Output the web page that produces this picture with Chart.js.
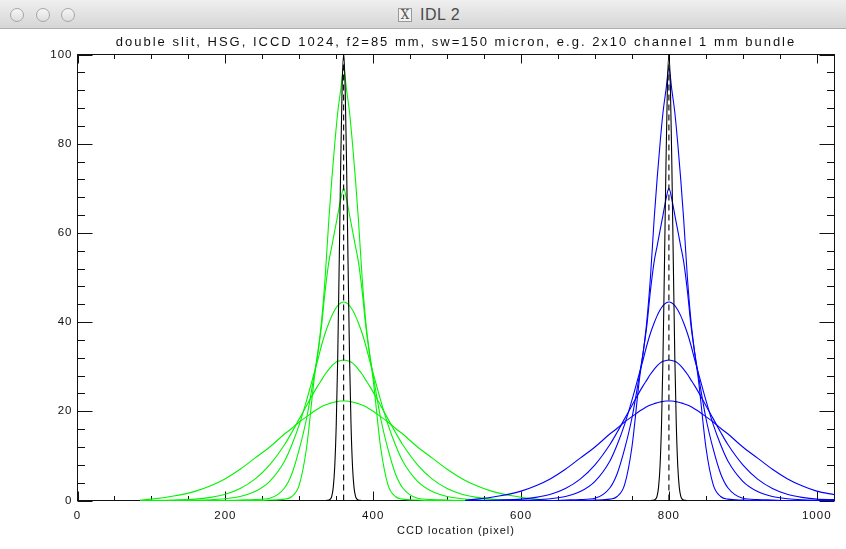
<!DOCTYPE html>
<html>
<head>
<meta charset="utf-8">
<script src="https://cdn.jsdelivr.net/npm/chart.js@4.4.0/dist/chart.umd.min.js"></script>
<style>
html,body{margin:0;padding:0;background:#fff;width:846px;height:549px;overflow:hidden;}
#bar{position:absolute;left:0;top:0;width:846px;height:29px;background:linear-gradient(#efefef,#d6d6d6);border-bottom:1px solid #afafaf;box-sizing:border-box;font-family:'Liberation Sans',Arial,sans-serif;}
.dot{position:absolute;top:8px;width:14px;height:14px;border-radius:50%;border:1px solid #a6a6a6;background:linear-gradient(#f6f6f6,#dddddd);box-sizing:border-box;}
#icon{position:absolute;left:398px;top:8px;width:14px;height:14px;border:1px solid #999;background:#f2f2f2;font-size:12px;line-height:13px;text-align:center;color:#555;box-sizing:border-box;font-family:'DejaVu Serif',serif;}
#ttl{position:absolute;left:420px;top:6px;font-size:16px;letter-spacing:0.5px;color:#4a4a4a;}
#wrap{position:absolute;left:0;top:29px;width:846px;height:520px;}
</style>
</head>
<body>
<div id="bar">
  <div class="dot" style="left:10px"></div>
  <div class="dot" style="left:36px"></div>
  <div class="dot" style="left:61px"></div>
  <div id="icon">X</div>
  <div id="ttl">IDL 2</div>
</div>
<div id="wrap"><canvas id="c" width="846" height="520"></canvas></div>
<script>
// ---- data ----
const titleText = "double slit, HSG, ICCD 1024, f2=85 mm, sw=150 micron, e.g. 2x10 channel 1 mm bundle";
const xTitle = "CCD location (pixel)";
const xTickValues = [0, 200, 400, 600, 800, 1000];
const yTickValues = [0, 20, 40, 60, 80, 100];
const slitCenters = [360, 800];

// green family (slit at pixel 360)
const greenX = [85,100,130,160,180,200,220,240,260,280,290,300,310,320,325,330,335,340,344,348,352,356,360,364,368,372,376,380,385,390,395,400,410,420,430,440,460,480,500,520,540,560,590,620,635];
const green1 = [0,0,0,0,0,0,0,0,0.1,0.3,0.9,3.5,12,27,33,40,50,63,72,80,87,92,97,92,87,80,72,63,50,40,33,27,12,3.5,0.9,0.3,0.1,0,0,0,0,0,0,0,0];
const green2 = [0,0,0,0,0,0,0.1,0.2,0.5,2.8,6,11.5,18.5,28,33,39,47,53.5,57,60.5,64,67.5,70,67.5,64,60.5,57,53.5,47,39,33,28,18.5,11.5,6,2.8,0.5,0.2,0.1,0,0,0,0,0,0];
const green3 = [0,0,0,0.05,0.15,0.4,0.9,2,4.3,8.8,12.5,17,22.5,28.5,31.5,34.7,37.5,39.8,41.4,42.7,43.7,44.3,44.5,44.3,43.7,42.7,41.4,39.8,37.5,34.7,31.5,28.5,22.5,17,12.5,8.8,4.3,2,0.9,0.4,0.15,0.05,0,0,0];
const green4 = [0,0,0.1,0.3,0.7,1.4,2.7,4.8,8,12.5,15.3,18.3,21.3,24.3,25.7,27,28.3,29.4,30.2,30.8,31.2,31.4,31.5,31.4,31.2,30.8,30.2,29.4,28.3,27,25.7,24.3,21.3,18.3,15.3,12.5,8,4.8,2.7,1.4,0.7,0.3,0.1,0,0];
const green5 = [0.1,0.3,1,2.1,3.3,4.9,7,9.5,12,14.9,16.2,17.6,18.8,20,20.5,21,21.4,21.7,21.9,22.1,22.2,22.3,22.3,22.3,22.2,22.1,21.9,21.7,21.4,21,20.5,20,18.8,17.6,16.2,14.9,12,9.5,7,4.9,3.3,2.1,1,0.3,0.1];

// blue family (slit at pixel 800)
const blueX = [525,540,570,600,620,640,660,680,700,720,730,740,750,760,765,770,775,780,784,788,792,796,800,804,808,812,816,820,825,830,835,840,850,860,870,880,900,920,940,960,980,1000,1024];
const blue1 = [0,0,0,0,0,0,0,0,0.1,0.3,0.9,3.5,12,27,33,40,50,63,72,80,87,92,97,92,87,80,72,63,50,40,33,27,12,3.5,0.9,0.3,0.1,0,0,0,0,0,0];
const blue2 = [0,0,0,0,0,0,0.1,0.2,0.5,2.8,6,11.5,18.5,28,33,39,47,53.5,57,60.5,64,67.5,70,67.5,64,60.5,57,53.5,47,39,33,28,18.5,11.5,6,2.8,0.5,0.2,0.1,0,0,0,0];
const blue3 = [0,0,0,0.05,0.15,0.4,0.9,2,4.3,8.8,12.5,17,22.5,28.5,31.5,34.7,37.5,39.8,41.4,42.7,43.7,44.3,44.5,44.3,43.7,42.7,41.4,39.8,37.5,34.7,31.5,28.5,22.5,17,12.5,8.8,4.3,2,0.9,0.4,0.15,0.05,0];
const blue4 = [0,0,0.1,0.3,0.7,1.4,2.7,4.8,8,12.5,15.3,18.3,21.3,24.3,25.7,27,28.3,29.4,30.2,30.8,31.2,31.4,31.5,31.4,31.2,30.8,30.2,29.4,28.3,27,25.7,24.3,21.3,18.3,15.3,12.5,8,4.8,2.7,1.4,0.7,0.3,0.2];
const blue5 = [0.1,0.3,1,2.1,3.3,4.9,7,9.5,12,14.9,16.2,17.6,18.8,20,20.5,21,21.4,21.7,21.9,22.1,22.2,22.3,22.3,22.3,22.2,22.1,21.9,21.7,21.4,21,20.5,20,18.8,17.6,16.2,14.9,12,9.5,7,4.9,3.3,2.1,1.3];

// narrow black slit images
const blackGX = [336,340,342,344,346,348,350,352,354,356,358,360,362,364,366,368,370,372,374,376,378,380,384];
const blackBX = [776,780,782,784,786,788,790,792,794,796,798,800,802,804,806,808,810,812,814,816,818,820,824];
const blackY  = [0,0.1,0.3,1,3,7.7,17,32,53,75,93,100,93,75,53,32,17,7.7,3,1,0.3,0.1,0];

// ---- helpers ----
const pts = (xs, ys) => xs.map((x, i) => ({x: x, y: ys[i]}));
const vline = (xc) => [{x: xc, y: 0}, {x: xc, y: 100}];

const GREEN = '#00f400', BLUE = '#0000ff', BLACK = '#000000';
function curve(data, color) {
  return {data: data, borderColor: color, borderWidth: 1.1, pointRadius: 0, fill: false,
          cubicInterpolationMode: 'monotone', clip: 3};
}

const datasets = [
  {data: vline(slitCenters[0]), borderColor: BLACK, borderWidth: 1.1, borderDash: [6, 4], pointRadius: 0, clip: 3},
  {data: vline(slitCenters[1]), borderColor: BLACK, borderWidth: 1.1, borderDash: [6, 4], pointRadius: 0, clip: 3},
  curve(pts(blackGX, blackY), BLACK),
  curve(pts(blackBX, blackY), BLACK),
  curve(pts(blueX, blue1), BLUE),
  curve(pts(blueX, blue2), BLUE),
  curve(pts(blueX, blue3), BLUE),
  curve(pts(blueX, blue4), BLUE),
  curve(pts(blueX, blue5), BLUE),
  curve(pts(greenX, green1), GREEN),
  curve(pts(greenX, green2), GREEN),
  curve(pts(greenX, green3), GREEN),
  curve(pts(greenX, green4), GREEN),
  curve(pts(greenX, green5), GREEN)
];

// IDL style box with inward ticks, and IDL-like wide letter spacing
const idlBox = {
  id: 'idlBox',
  afterLayout(chart) {
    const tb = chart.titleBlock;
    if (tb && !tb._spaced) {
      const orig = tb.draw;
      tb.draw = function () {
        const c = chart.ctx, prev = c.letterSpacing;
        c.letterSpacing = '2px';
        orig.apply(this, arguments);
        c.letterSpacing = prev;
      };
      tb._spaced = true;
    }
  },
  beforeDraw(chart) { chart.ctx.letterSpacing = '1px'; },
  beforeDatasetsDraw(chart) {
    const {ctx, chartArea: a, scales: {x, y}} = chart;
    ctx.save();
    ctx.letterSpacing = '0px';
    ctx.strokeStyle = '#111';
    ctx.lineWidth = 1;
    ctx.strokeRect(a.left, a.top, a.right - a.left, a.bottom - a.top);
    ctx.beginPath();
    const xMaj = 9, xMin = 4.5, yMaj = 15, yMin = 7.5;
    for (let v = 0; v <= x.max; v += 50) {
      const p = Math.round(x.getPixelForValue(v)) + 0.5;
      const L = (v % 200 === 0) ? xMaj : xMin;
      ctx.moveTo(p, a.bottom); ctx.lineTo(p, a.bottom - L);
      ctx.moveTo(p, a.top); ctx.lineTo(p, a.top + L);
    }
    for (let v = 0; v <= y.max; v += 4) {
      const p = Math.round(y.getPixelForValue(v)) + 0.5;
      const L = (v % 20 === 0) ? yMaj : yMin;
      ctx.moveTo(a.left, p); ctx.lineTo(a.left + L, p);
      ctx.moveTo(a.right, p); ctx.lineTo(a.right - L, p);
    }
    ctx.stroke();
    ctx.restore();
  }
};

const tickFont = {family: "'Liberation Sans', Arial, sans-serif", size: 11.5};
const axisTitleFont = {family: "'Liberation Sans', Arial, sans-serif", size: 11};

new Chart(document.getElementById('c'), {
  type: 'line',
  data: {datasets: datasets},
  plugins: [idlBox],
  options: {
    responsive: false,
    animation: false,
    events: [],
    layout: {padding: {left: 0, right: 11.5, top: 0, bottom: 0}},
    plugins: {
      legend: {display: false},
      tooltip: {enabled: false},
      title: {display: true, text: titleText, fullSize: false, color: '#111',
              font: {family: "'Liberation Sans', Arial, sans-serif", size: 13, weight: 'normal'},
              padding: {top: 5.5, bottom: 4.4}}
    },
    scales: {
      x: {
        type: 'linear', min: 0, max: 1024,
        grid: {display: false, drawTicks: false},
        border: {display: false},
        afterBuildTicks: s => { s.ticks = xTickValues.map(v => ({value: v})); },
        afterFit: s => { s.height = 48.5; },
        ticks: {color: '#111', font: tickFont, padding: 8, maxRotation: 0, autoSkip: false,
                callback: v => String(v)},
        title: {display: true, text: xTitle, color: '#111', font: axisTitleFont, padding: {top: 0, bottom: 11.4}}
      },
      y: {
        type: 'linear', min: 0, max: 100,
        grid: {display: false, drawTicks: false},
        border: {display: false},
        afterBuildTicks: s => { s.ticks = yTickValues.map(v => ({value: v})); },
        afterFit: s => { s.width = 77.5; },
        ticks: {color: '#111', font: tickFont, padding: 5, callback: v => String(v)}
      }
    }
  }
});
</script>
</body>
</html>
